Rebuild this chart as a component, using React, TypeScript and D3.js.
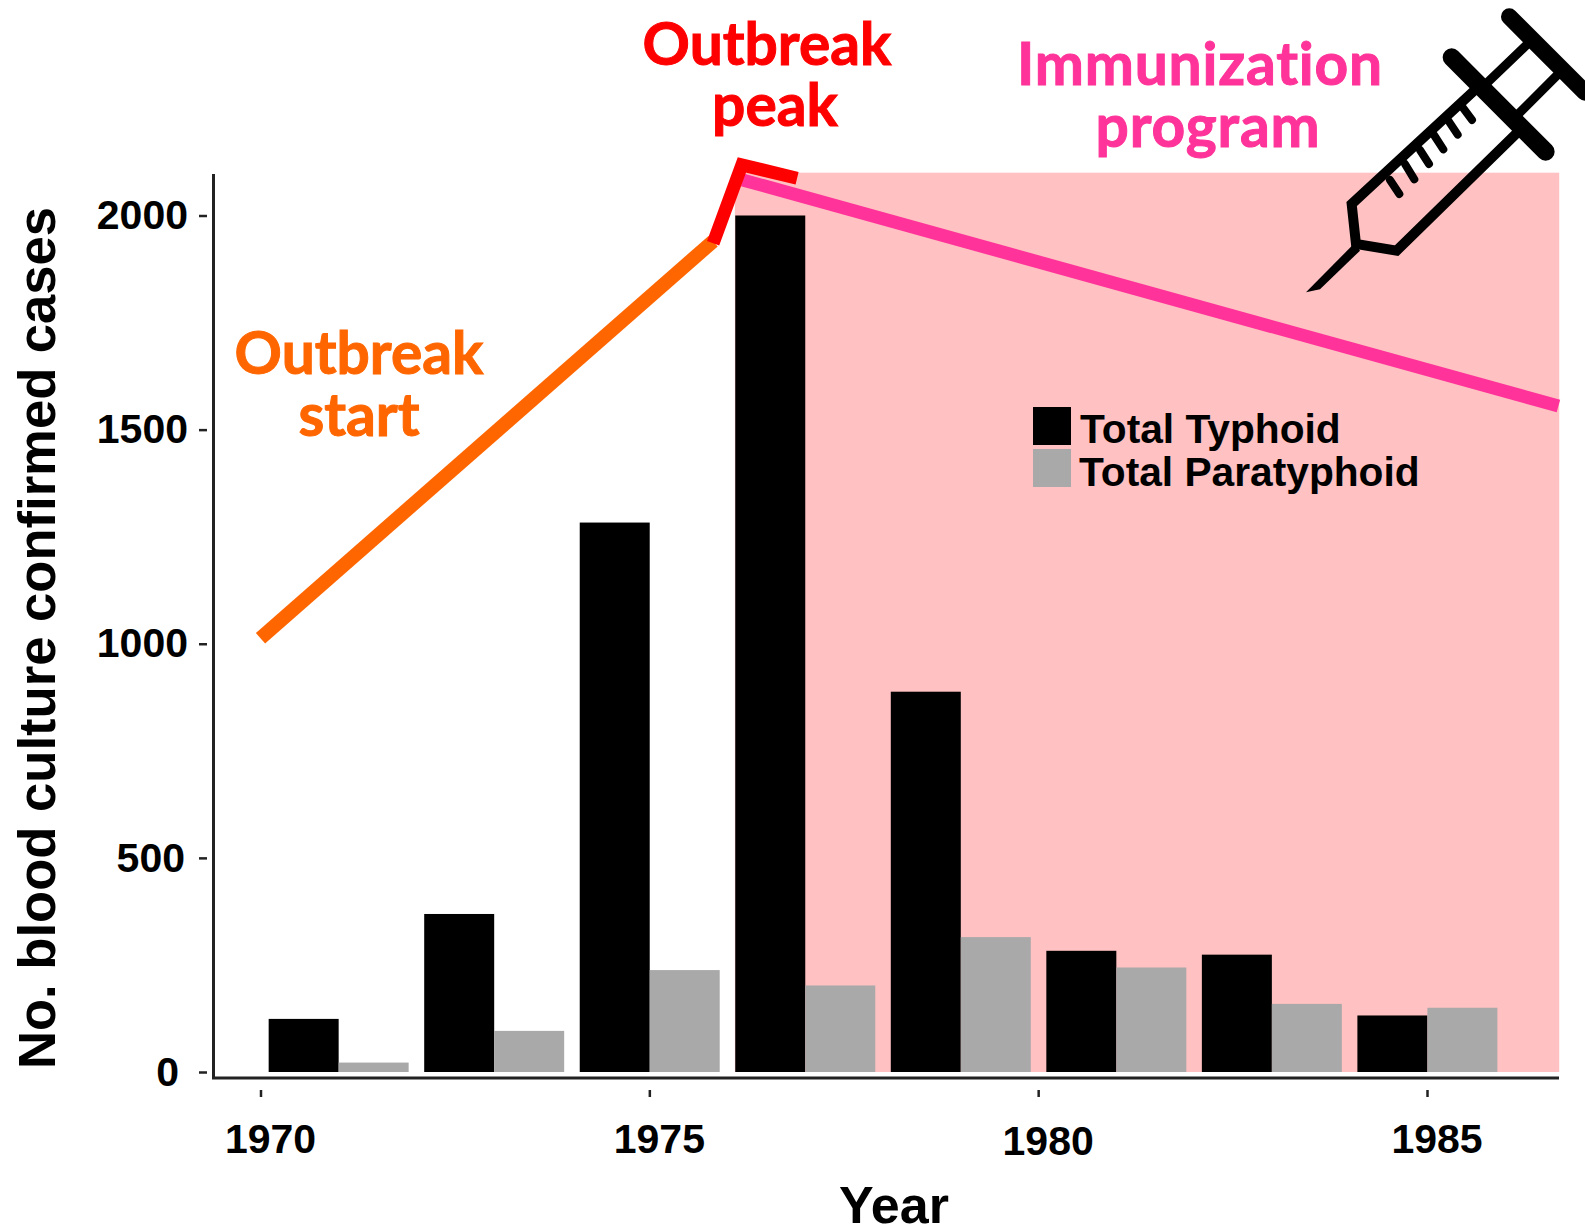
import { useEffect, useRef } from 'react'
import { select, scaleLinear, axisLeft, axisBottom, line } from 'd3'

const WIDTH = 1585
const HEIGHT = 1227

const startYears = [1970, 1972, 1974, 1976, 1978, 1980, 1982, 1984]
const typhoid = [124, 369, 1283, 2000, 888, 283, 274, 132]
const paratyphoid = [22, 96, 238, 202, 315, 244, 159, 150]

const xTicks = [1970, 1975, 1980, 1985]
const yTicks = [0, 500, 1000, 1500, 2000]

// trend annotations, in [year, cases]
const outbreakStart = [[1970, 1013], [1975.82, 1940]]
const outbreakPeak = [[1975.82, 1935], [1976.19, 2118], [1976.9, 2087]]
const immunization = [[1976.2, 2083], [1986.69, 1555]]

const ARIAL = '"Liberation Sans", Arial, sans-serif'
const CALIBRI = 'Lato, Carlito, sans-serif'

const Syringe = () => (
  // traced from the icon, 3x its size on the page
  <g transform="translate(1280,0) scale(0.3333)" fill="none" stroke="#000" strokeLinecap="round">
    <path d="M590,265 L215,612 L228,732 L350,752 L715,395" strokeWidth={30} strokeLinecap="butt" />
    <path d="M515,172 L797,455" strokeWidth={54} />
    <path d="M688,50 L915,277" strokeWidth={50} />
    <path d="M745,130 L620,250 M835,222 L712,345" strokeWidth={27} strokeLinecap="butt" />
    <path d="M548,322 L576,360 M505,362 L533,404 M462,405 L490,448 M420,450 L447,492 M375,492 L403,538 M330,540 L358,582" strokeWidth={24} />
    <path d="M225,728 L78,877 L120,868 L240,752 Z" fill="#000" stroke="none" />
  </g>
)

const App = () => {
  const chartRef = useRef<SVGGElement>(null)

  useEffect(() => {
    const g = select(chartRef.current)
    g.selectAll('*').remove()

    const x = scaleLinear().domain([1970, 1985]).range([260.5, 1427])
    const y = scaleLinear().domain([0, 2000]).range([1072, 215.5])

    // immunization period background
    g.append('rect')
      .attr('x', x(1976.1))
      .attr('y', y(2100))
      .attr('width', x(1986.7) - x(1976.1))
      .attr('height', y(0) - y(2100))
      .attr('fill', '#ffc1c1')

    g.selectAll('.typhoid')
      .data(startYears)
      .join('rect')
      .attr('class', 'typhoid')
      .attr('x', d => x(d + 0.105))
      .attr('width', x(0.9) - x(0))
      .attr('y', (d, i) => y(typhoid[i]))
      .attr('height', (d, i) => y(0) - y(typhoid[i]))
      .attr('fill', '#000')

    g.selectAll('.paratyphoid')
      .data(startYears)
      .join('rect')
      .attr('class', 'paratyphoid')
      .attr('x', d => x(d + 1.005))
      .attr('width', x(0.9) - x(0))
      .attr('y', (d, i) => y(paratyphoid[i]))
      .attr('height', (d, i) => y(0) - y(paratyphoid[i]))
      .attr('fill', '#a9a9a9')

    // axes
    const yAxis = g.append('g')
      .attr('transform', 'translate(207,0)')
      .call(axisLeft(y).tickValues(yTicks).tickSize(8).tickPadding(11).tickFormat(d => String(d)))
    yAxis.select('.domain').remove()
    yAxis.selectAll('line').attr('stroke', '#222').attr('stroke-width', 2.5)
    yAxis.selectAll('text')
      .attr('font-family', ARIAL)
      .attr('font-weight', 700)
      .attr('font-size', 41)
      .attr('fill', '#000')
      .attr('dx', d => (d === 0 ? -9 : d === 500 ? -3 : 0))

    const xAxis = g.append('g')
      .attr('transform', 'translate(0,1090)')
      .call(axisBottom(x).tickValues(xTicks).tickSize(7).tickPadding(15).tickFormat(d => String(d)))
    xAxis.select('.domain').remove()
    xAxis.selectAll('line').attr('stroke', '#222').attr('stroke-width', 2.5)
    xAxis.selectAll('text')
      .attr('font-family', ARIAL)
      .attr('font-weight', 700)
      .attr('font-size', 41)
      .attr('fill', '#000')
      .attr('dx', 9.5)
      .attr('dy', 0)
      .attr('y', d => (d === 1980 ? 65 : 63))

    g.append('path')
      .attr('d', 'M213.5,174 V1078 H1559')
      .attr('fill', 'none')
      .attr('stroke', '#222')
      .attr('stroke-width', 3)

    // axis titles
    g.append('text')
      .attr('transform', 'translate(55,1069) rotate(-90)')
      .attr('font-family', ARIAL)
      .attr('font-weight', 700)
      .attr('font-size', 52.6)
      .attr('fill', '#000')
      .text('No. blood culture confirmed cases')

    g.append('text')
      .attr('x', 894)
      .attr('y', 1223)
      .attr('text-anchor', 'middle')
      .attr('font-family', ARIAL)
      .attr('font-weight', 700)
      .attr('font-size', 52)
      .attr('fill', '#000')
      .text('Year')

    // trend lines
    const trend = line<number[]>().x(d => x(d[0])).y(d => y(d[1]))
    g.append('path').attr('d', trend(immunization)).attr('fill', 'none').attr('stroke', '#ff3399').attr('stroke-width', 13)
    g.append('path').attr('d', trend(outbreakStart)).attr('fill', 'none').attr('stroke', '#ff6600').attr('stroke-width', 14)
    g.append('path').attr('d', trend(outbreakPeak)).attr('fill', 'none').attr('stroke', '#ff0000').attr('stroke-width', 13)

    // legend
    const legend = [
      { label: 'Total Typhoid', fill: '#000', y: 407, tx: 1080, ty: 443 },
      { label: 'Total Paratyphoid', fill: '#a9a9a9', y: 449, tx: 1079, ty: 486 },
    ]
    legend.forEach(l => {
      g.append('rect').attr('x', 1033).attr('y', l.y).attr('width', 38).attr('height', 38).attr('fill', l.fill)
      g.append('text')
        .attr('x', l.tx)
        .attr('y', l.ty)
        .attr('font-family', ARIAL)
        .attr('font-weight', 700)
        .attr('font-size', 40.7)
        .attr('fill', '#000')
        .text(l.label)
    })

    // callouts
    const callouts = [
      { text: 'Outbreak', x: 359, y: 374, fill: '#ff6600', spacing: 0 },
      { text: 'start', x: 359, y: 436, fill: '#ff6600', spacing: 0 },
      { text: 'Outbreak', x: 767, y: 65, fill: '#ff0000', spacing: 0 },
      { text: 'peak', x: 775, y: 126, fill: '#ff0000', spacing: 0 },
      { text: 'Immunization', x: 1200, y: 85, fill: '#ff3399', spacing: 0.8 },
      { text: 'program', x: 1208, y: 147, fill: '#ff3399', spacing: 0.8 },
    ]
    callouts.forEach(c => {
      g.append('text')
        .attr('x', c.x)
        .attr('y', c.y)
        .attr('text-anchor', 'middle')
        .attr('font-family', CALIBRI)
        .attr('font-weight', 700)
        .attr('font-size', 58.7)
        .attr('fill', c.fill)
        .attr('stroke', c.fill)
        .attr('stroke-width', 1)
        .attr('letter-spacing', c.spacing)
        .style('font-variant-ligatures', 'none')
        .text(c.text)
    })
  }, [])

  return (
    <svg
      width={WIDTH}
      height={HEIGHT}
      style={{ position: 'absolute', left: 0, top: 0, display: 'block', background: '#fff' }}
    >
      <g ref={chartRef} />
      <Syringe />
    </svg>
  )
}

export default App
